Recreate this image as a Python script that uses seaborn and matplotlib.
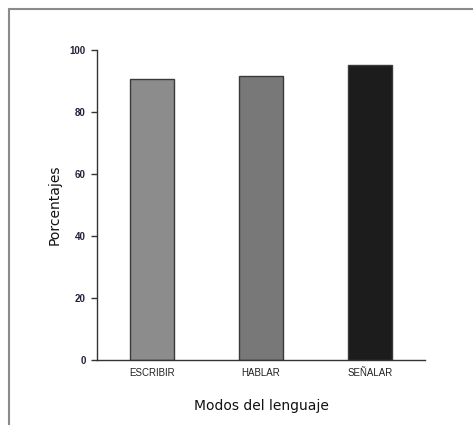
import matplotlib
matplotlib.use("Agg")
import pandas as pd
import seaborn as sns
from matplotlib import pyplot as plt
from matplotlib.lines import Line2D

# data
modos = ["ESCRIBIR", "HABLAR", "SEÑALAR"]
porcentajes = [90.6, 91.6, 95.2]
colores = ["#8c8c8c", "#787878", "#1c1c1c"]
yticks = [0, 20, 40, 60, 80, 100]

df = pd.DataFrame({"modo": modos, "pct": porcentajes})

sns.set_style("white")
fig = plt.figure(figsize=(4.73, 4.25), dpi=100)
ax = fig.add_axes([97 / 473, 1 - 360 / 425, 328 / 473, 310 / 425])

sns.barplot(data=df, x="modo", y="pct", hue="modo", palette=colores,
            width=0.4, edgecolor="#3a3a3a", linewidth=1.0, legend=False, ax=ax)

ax.set_xlim(-0.5, 2.5)
ax.set_ylim(0, 100)
ax.set_yticks(yticks)
ax.set_yticklabels([str(v) for v in yticks], fontsize=7, fontweight="bold",
                   family="Liberation Sans", color="#22223a")
ax.set_xticks(range(len(modos)))
ax.set_xticklabels(modos, fontsize=7, family="Liberation Sans", color="#222222")
ax.set_xticks([-0.5, 0.5, 1.5, 2.5], minor=True)
ax.tick_params(axis="x", which="major", length=0, pad=6)
ax.tick_params(axis="x", which="minor", length=4, width=1, color="#333333", direction="out")
ax.tick_params(axis="y", length=4, width=1, color="#333333", direction="out", left=True, pad=4)

for s in ["top", "right"]:
    ax.spines[s].set_visible(False)
for s in ["left", "bottom"]:
    ax.spines[s].set_color("#333333")
    ax.spines[s].set_linewidth(1.0)

ax.set_xlabel("Modos del lenguaje", fontsize=10, labelpad=15, color="#111111")
ax.set_ylabel("Porcentajes", fontsize=10, labelpad=6, color="#111111")

# grey frame at the top and left edge of the picture
fig.add_artist(Line2D([9 / 473, 1], [1 - 9 / 425, 1 - 9 / 425], transform=fig.transFigure,
                      color="#8a8a8a", linewidth=1.5))
fig.add_artist(Line2D([9 / 473, 9 / 473], [0, 1 - 9 / 425], transform=fig.transFigure,
                      color="#8a8a8a", linewidth=1.5))

plt.savefig("out.png", dpi=100)
